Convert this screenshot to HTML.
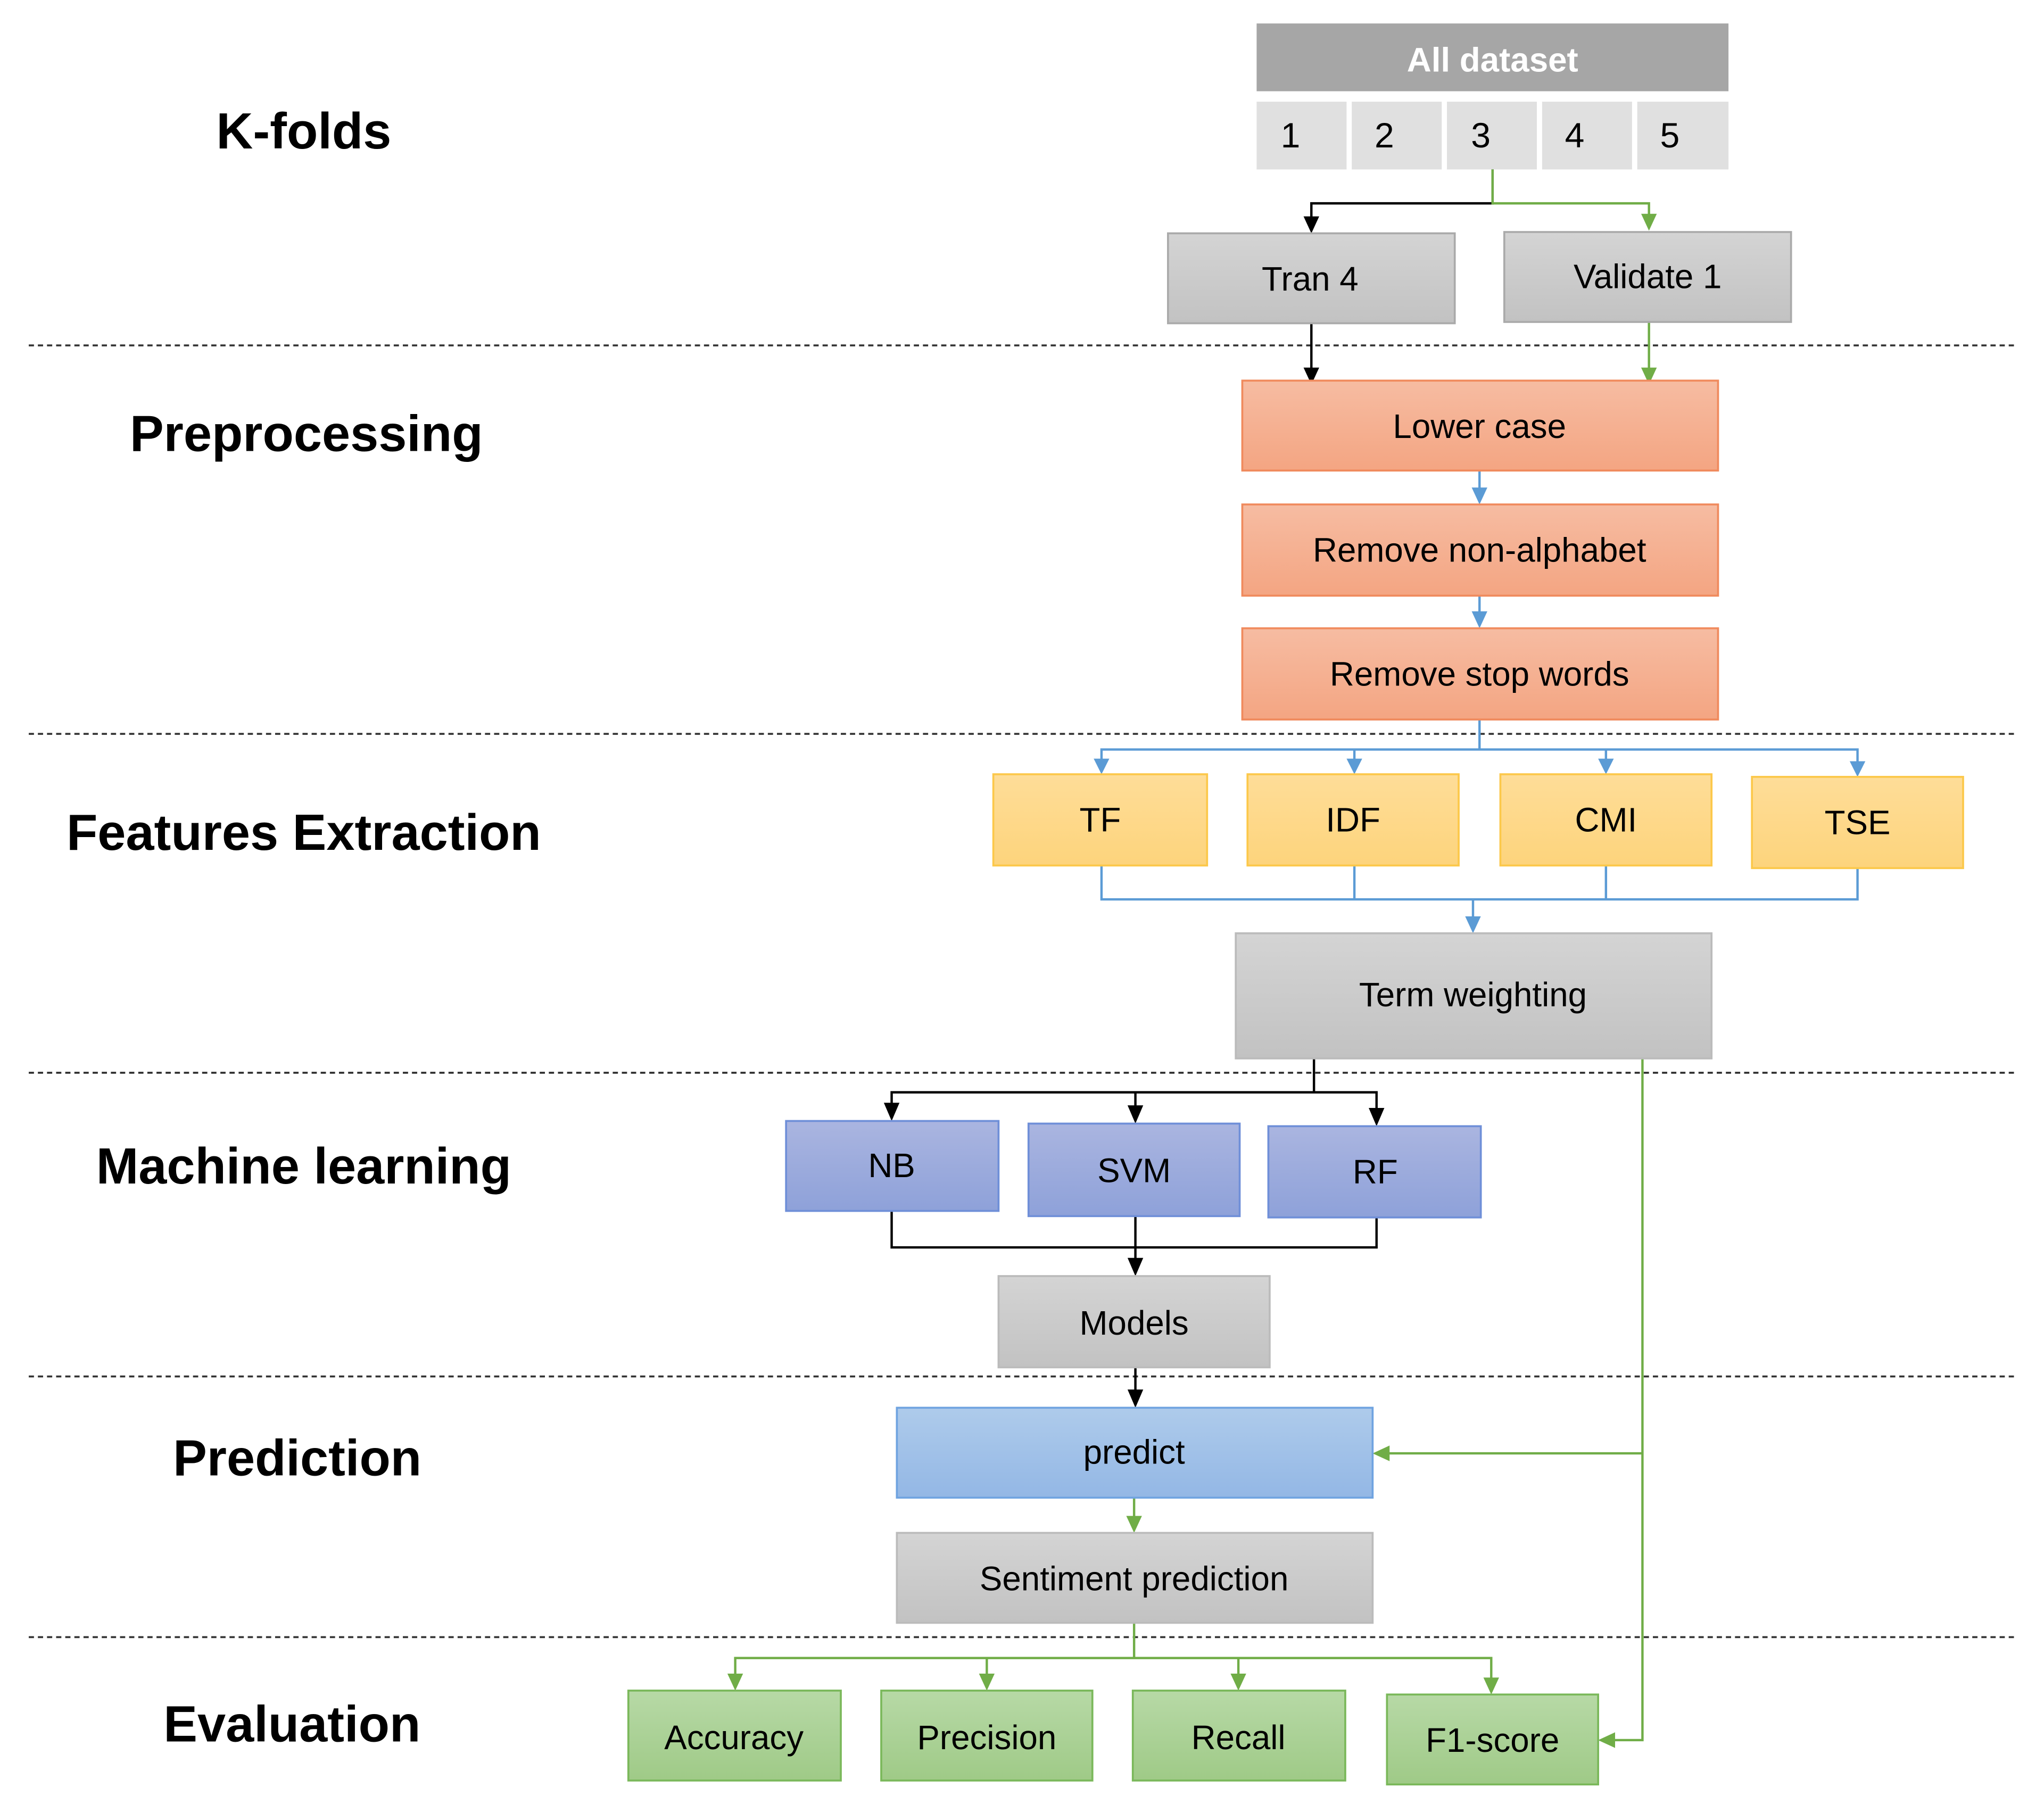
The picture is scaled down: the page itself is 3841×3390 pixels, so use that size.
<!DOCTYPE html>
<html><head><meta charset="utf-8"><style>
html,body{margin:0;padding:0;background:#fff;}
svg{display:block;}
text{font-family:"Liberation Sans",sans-serif;}
</style></head><body>
<svg width="3841" height="3390" viewBox="0 0 1568 1384" xmlns="http://www.w3.org/2000/svg">
<defs>
<linearGradient id="gg" x1="0" y1="0" x2="0" y2="1"><stop offset="0" stop-color="#d4d4d4"/><stop offset="1" stop-color="#c2c2c2"/></linearGradient>
<linearGradient id="go" x1="0" y1="0" x2="0" y2="1"><stop offset="0" stop-color="#f6bca2"/><stop offset="1" stop-color="#f4a582"/></linearGradient>
<linearGradient id="gy" x1="0" y1="0" x2="0" y2="1"><stop offset="0" stop-color="#fedd98"/><stop offset="1" stop-color="#fdd47c"/></linearGradient>
<linearGradient id="gp" x1="0" y1="0" x2="0" y2="1"><stop offset="0" stop-color="#aab5e0"/><stop offset="1" stop-color="#8ea1d9"/></linearGradient>
<linearGradient id="gb" x1="0" y1="0" x2="0" y2="1"><stop offset="0" stop-color="#aecbeb"/><stop offset="1" stop-color="#93b7e5"/></linearGradient>
<linearGradient id="gn" x1="0" y1="0" x2="0" y2="1"><stop offset="0" stop-color="#b7d9a6"/><stop offset="1" stop-color="#9fca87"/></linearGradient>
<marker id="ak" markerWidth="8" markerHeight="8" refX="4" refY="8" orient="auto" markerUnits="userSpaceOnUse" viewBox="0 0 8 8"><path d="M0,0 L8,0 L4,8z" fill="#000"/></marker>
</defs>

<!-- dashed lines -->
<g stroke="#333" stroke-width="1.5" stroke-dasharray="4,3">
<line x1="22" y1="265" x2="1548" y2="265"/>
<line x1="22" y1="563" x2="1548" y2="563"/>
<line x1="22" y1="823" x2="1548" y2="823"/>
<line x1="22" y1="1056" x2="1548" y2="1056"/>
<line x1="22" y1="1256" x2="1548" y2="1256"/>
</g>

<!-- left labels -->
<g font-weight="bold" font-size="39" text-anchor="middle" fill="#000">
<text x="233" y="114">K-folds</text>
<text x="235" y="346">Preprocessing</text>
<text x="233" y="652">Features Extraction</text>
<text x="233" y="908">Machine learning</text>
<text x="228" y="1132">Prediction</text>
<text x="224" y="1336">Evaluation</text>
</g>

<!-- K-folds -->
<rect x="964" y="18" width="362" height="52" fill="#a6a6a6"/>
<text x="1145" y="55" font-size="26" font-weight="bold" fill="#fff" text-anchor="middle">All dataset</text>
<g fill="#e0e0e0">
<rect x="964" y="78" width="69" height="52"/><rect x="1037" y="78" width="69" height="52"/><rect x="1110" y="78" width="69" height="52"/><rect x="1183" y="78" width="69" height="52"/><rect x="1256" y="78" width="70" height="52"/>
</g>
<g font-size="27" fill="#000" text-anchor="middle">
<text x="990" y="113">1</text><text x="1062" y="113">2</text><text x="1136" y="113">3</text><text x="1208" y="113">4</text><text x="1281" y="113">5</text>
</g>

<!-- line styles -->
<g fill="none" stroke-width="1.8">
<path d="M1145,130 V156 H1006 V170" stroke="#000"/>
<path d="M1145,130 V156 H1265 V170" stroke="#70ad47"/>
<path d="M1006,248 V286" stroke="#000"/>
<path d="M1265,247 V286" stroke="#70ad47"/>
<path d="M1135,361 V380 M1135,457 V475" stroke="#5b9bd5"/>
<path d="M1135,552 V575 M845,587 V575 H1425 V587 M1039,575 V587 M1232,575 V587" stroke="#5b9bd5"/>
<path d="M845,664 V690 H1425 V666 M1039,664 V690 M1232,664 V690 M1130,690 V708" stroke="#5b9bd5"/>
<path d="M1008,812 V838 M684,852 V838 H1056 V855 M871,838 V854" stroke="#000"/>
<path d="M684,929 V957 H1056 V934 M871,933 V971" stroke="#000"/>
<path d="M871,1049 V1072" stroke="#000"/>
<path d="M1260,812 V1335 H1236 M1260,1115 H1063" stroke="#70ad47"/>
<path d="M870,1149 V1168" stroke="#70ad47"/>
<path d="M870,1245 V1272 M564,1289 V1272 H1144 V1292 M757,1272 V1289 M950,1272 V1289" stroke="#70ad47"/>
</g>
<!-- arrowheads -->
<g fill="#000">
<path d="M1000,166 L1012,166 L1006,179z"/>
<path d="M1000,282 L1012,282 L1006,295z"/>
<path d="M678,846 L690,846 L684,860z"/>
<path d="M865,848 L877,848 L871,862z"/>
<path d="M1050,850 L1062,850 L1056,864z"/>
<path d="M865,965 L877,965 L871,979z"/>
<path d="M865,1066 L877,1066 L871,1080z"/>
</g>
<g fill="#70ad47">
<path d="M1259,164 L1271,164 L1265,177z"/>
<path d="M1259,282 L1271,282 L1265,295z"/>
<path d="M1066,1109 L1066,1121 L1053,1115z"/>
<path d="M1239,1329 L1239,1341 L1226,1335z"/>
<path d="M864,1163 L876,1163 L870,1176z"/>
<path d="M558,1284 L570,1284 L564,1297z"/>
<path d="M751,1284 L763,1284 L757,1297z"/>
<path d="M944,1284 L956,1284 L950,1297z"/>
<path d="M1138,1287 L1150,1287 L1144,1300z"/>
</g>
<g fill="#5b9bd5">
<path d="M1129,374 L1141,374 L1135,387z"/>
<path d="M1129,469 L1141,469 L1135,482z"/>
<path d="M839,582 L851,582 L845,594z"/>
<path d="M1033,582 L1045,582 L1039,594z"/>
<path d="M1226,582 L1238,582 L1232,594z"/>
<path d="M1419,584 L1431,584 L1425,596z"/>
<path d="M1124,703 L1136,703 L1130,716z"/>
</g>

<!-- boxes -->
<g stroke-width="1.5">
<rect x="896" y="179" width="220" height="69" fill="url(#gg)" stroke="#aaa"/>
<rect x="1154" y="178" width="220" height="69" fill="url(#gg)" stroke="#aaa"/>
<rect x="953" y="292" width="365" height="69" fill="url(#go)" stroke="#f08a5d"/>
<rect x="953" y="387" width="365" height="70" fill="url(#go)" stroke="#f08a5d"/>
<rect x="953" y="482" width="365" height="70" fill="url(#go)" stroke="#f08a5d"/>
<rect x="762" y="594" width="164" height="70" fill="url(#gy)" stroke="#fcc84a"/>
<rect x="957" y="594" width="162" height="70" fill="url(#gy)" stroke="#fcc84a"/>
<rect x="1151" y="594" width="162" height="70" fill="url(#gy)" stroke="#fcc84a"/>
<rect x="1344" y="596" width="162" height="70" fill="url(#gy)" stroke="#fcc84a"/>
<rect x="948" y="716" width="365" height="96" fill="url(#gg)" stroke="#bbb"/>
<rect x="603" y="860" width="163" height="69" fill="url(#gp)" stroke="#6f8fd8"/>
<rect x="789" y="862" width="162" height="71" fill="url(#gp)" stroke="#6f8fd8"/>
<rect x="973" y="864" width="163" height="70" fill="url(#gp)" stroke="#6f8fd8"/>
<rect x="766" y="979" width="208" height="70" fill="url(#gg)" stroke="#bbb"/>
<rect x="688" y="1080" width="365" height="69" fill="url(#gb)" stroke="#6fa3e0"/>
<rect x="688" y="1176" width="365" height="69" fill="url(#gg)" stroke="#bbb"/>
<rect x="482" y="1297" width="163" height="69" fill="url(#gn)" stroke="#7ab85a"/>
<rect x="676" y="1297" width="162" height="69" fill="url(#gn)" stroke="#7ab85a"/>
<rect x="869" y="1297" width="163" height="69" fill="url(#gn)" stroke="#7ab85a"/>
<rect x="1064" y="1300" width="162" height="69" fill="url(#gn)" stroke="#7ab85a"/>
</g>

<g font-size="26" fill="#000" text-anchor="middle">
<text x="1005" y="223">Tran 4</text>
<text x="1264" y="221">Validate 1</text>
<text x="1135" y="336">Lower case</text>
<text x="1135" y="431">Remove non-alphabet</text>
<text x="1135" y="526">Remove stop words</text>
<text x="844" y="638">TF</text>
<text x="1038" y="638">IDF</text>
<text x="1232" y="638">CMI</text>
<text x="1425" y="640">TSE</text>
<text x="1130" y="772">Term weighting</text>
<text x="684" y="903">NB</text>
<text x="870" y="907">SVM</text>
<text x="1055" y="908">RF</text>
<text x="870" y="1024">Models</text>
<text x="870" y="1123">predict</text>
<text x="870" y="1220">Sentiment prediction</text>
<text x="563" y="1342">Accuracy</text>
<text x="757" y="1342">Precision</text>
<text x="950" y="1342">Recall</text>
<text x="1145" y="1344">F1-score</text>
</g>
</svg>
</body></html>
